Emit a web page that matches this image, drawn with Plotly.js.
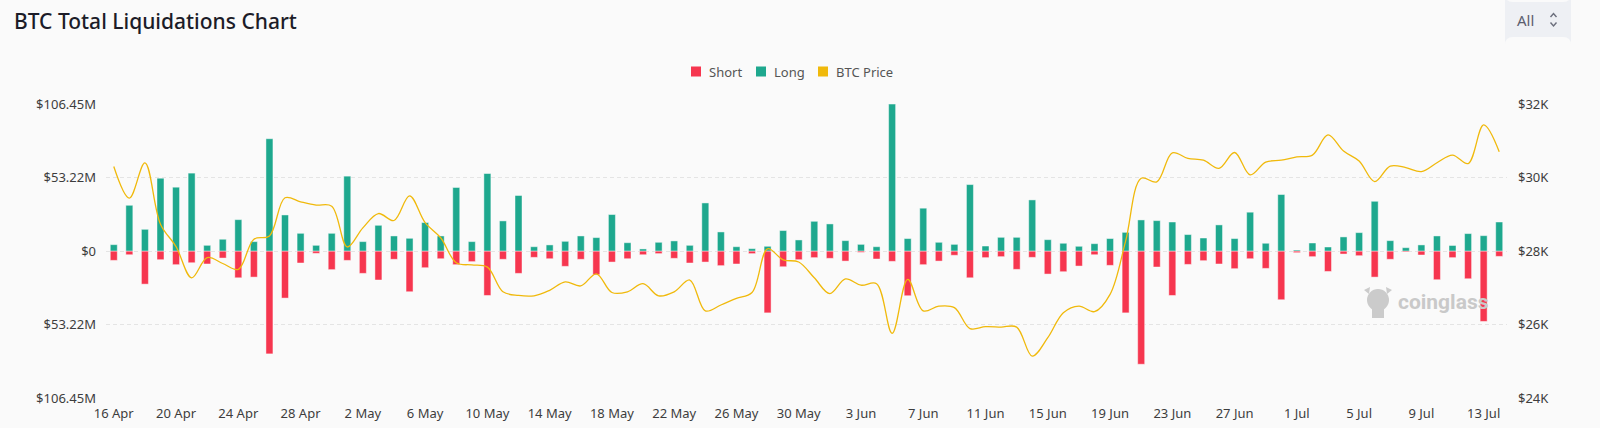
<!DOCTYPE html>
<html>
<head>
<meta charset="utf-8">
<script src="https://cdn.plot.ly/plotly-3.0.1.min.js"></script>
<style>
html,body{margin:0;padding:0;background:#fafafa;}
#chart{width:1600px;height:428px;}
</style>
</head>
<body>
<div id="chart"></div>
<script>
// ---- data ----
const dates = [
 '2023-04-16','2023-04-17','2023-04-18','2023-04-19','2023-04-20','2023-04-21','2023-04-22','2023-04-23','2023-04-24','2023-04-25','2023-04-26','2023-04-27','2023-04-28','2023-04-29','2023-04-30',
 '2023-05-01','2023-05-02','2023-05-03','2023-05-04','2023-05-05','2023-05-06','2023-05-07','2023-05-08','2023-05-09','2023-05-10','2023-05-11','2023-05-12','2023-05-13','2023-05-14','2023-05-15','2023-05-16','2023-05-17','2023-05-18','2023-05-19','2023-05-20','2023-05-21','2023-05-22','2023-05-23','2023-05-24','2023-05-25','2023-05-26','2023-05-27','2023-05-28','2023-05-29','2023-05-30','2023-05-31',
 '2023-06-01','2023-06-02','2023-06-03','2023-06-04','2023-06-05','2023-06-06','2023-06-07','2023-06-08','2023-06-09','2023-06-10','2023-06-11','2023-06-12','2023-06-13','2023-06-14','2023-06-15','2023-06-16','2023-06-17','2023-06-18','2023-06-19','2023-06-20','2023-06-21','2023-06-22','2023-06-23','2023-06-24','2023-06-25','2023-06-26','2023-06-27','2023-06-28','2023-06-29','2023-06-30',
 '2023-07-01','2023-07-02','2023-07-03','2023-07-04','2023-07-05','2023-07-06','2023-07-07','2023-07-08','2023-07-09','2023-07-10','2023-07-11','2023-07-12','2023-07-13','2023-07-14'
];
// Long liquidations, $M
const longLiq = [
 4.6,33.1,15.7,52.7,46.2,56.4,4.1,8.5,22.7,6.8,81.3,26.1,12.8,4.1,12.8,
 54.2,6.8,18.6,10.9,9.2,20.6,10.9,46.0,6.8,56.1,21.8,40.2,3.1,4.4,7.0,10.9,9.7,26.4,6.0,1.5,6.3,7.3,4.1,34.8,13.8,3.1,1.7,3.4,14.8,8.0,21.5,
 19.6,7.5,4.8,3.1,106.4,9.0,31.0,6.3,4.8,48.1,3.6,9.9,9.9,37.0,8.2,5.6,3.4,5.3,9.0,13.5,22.5,22.0,21.0,11.9,9.4,18.9,9.0,28.1,5.6,40.9,
 0.7,5.8,2.9,10.2,13.3,36.0,7.5,2.4,4.4,10.9,4.0,12.6,11.1,21.0
];
// Short liquidations, $M
const shortLiq = [
 6.8,2.7,24.0,6.3,9.9,8.5,9.4,5.1,19.4,18.9,74.5,34.1,8.7,1.7,13.5,
 6.8,16.2,21.0,6.0,29.5,12.1,5.6,9.9,7.7,32.2,6.0,16.2,4.6,5.6,11.1,6.0,17.2,8.0,5.6,2.7,1.9,5.3,8.7,8.0,10.6,9.4,1.9,44.8,11.4,6.3,4.8,
 5.3,7.3,1.0,5.8,7.5,32.4,9.9,7.3,3.1,19.4,4.8,4.1,13.3,4.6,16.7,15.0,10.9,2.7,10.4,44.8,82.0,11.6,32.2,9.7,7.0,9.4,12.8,5.6,12.6,35.3,
 1.2,4.1,14.8,2.2,3.4,18.9,6.0,0.7,2.9,20.8,4.8,20.1,51.0,3.9
];
// BTC price, $K
const btcPriceK = [
 30.30,29.44,30.40,28.73,28.12,27.27,27.82,27.66,27.50,28.32,28.41,29.45,29.34,29.25,29.22,
 28.11,28.63,29.02,28.83,29.50,28.77,28.36,27.68,27.62,27.56,26.89,26.79,26.78,26.93,27.16,27.05,27.38,26.87,26.89,27.11,26.78,26.89,27.21,26.37,26.53,26.71,26.87,28.06,27.76,27.70,27.27,
 26.84,27.24,27.07,27.11,25.76,27.23,26.37,26.50,26.46,25.89,25.94,25.93,25.93,25.14,25.64,26.32,26.50,26.35,26.82,28.27,29.98,29.88,30.67,30.52,30.47,30.25,30.68,30.07,30.42,30.47,
 30.56,30.61,31.16,30.72,30.45,29.89,30.31,30.27,30.16,30.40,30.61,30.38,31.43,30.70
];
const xTickDates = ['2023-04-16','2023-04-20','2023-04-24','2023-04-28','2023-05-02','2023-05-06','2023-05-10','2023-05-14','2023-05-18','2023-05-22','2023-05-26','2023-05-30','2023-06-03','2023-06-07','2023-06-11','2023-06-15','2023-06-19','2023-06-23','2023-06-27','2023-07-01','2023-07-05','2023-07-09','2023-07-13'];
const xTickLabels = ['16 Apr','20 Apr','24 Apr','28 Apr','2 May','6 May','10 May','14 May','18 May','22 May','26 May','30 May','3 Jun','7 Jun','11 Jun','15 Jun','19 Jun','23 Jun','27 Jun','1 Jul','5 Jul','9 Jul','13 Jul'];
const yTickVals = [-106.45,-53.22,0,53.22,106.45];
const yTickLabels = ['$106.45M','$53.22M','$0','$53.22M','$106.45M'];
const y2TickVals = [24,26,28,30,32];
const y2TickLabels = ['$24K','$26K','$28K','$30K','$32K'];
const seriesNames = ['Short', 'Long', 'BTC Price'];
const seriesColors = ['#f6364f', '#1ea88e', '#f0b90b'];

// ---- styling / layout helpers ----
const L = 106, R = 1507, T = 104, B = 398;
const px = x => (x - L) / (R - L);
const py = y => (B - y) / (B - T);
const DAY = 86400000;
const barWidth = 0.45 * DAY;
const tickFont = {family: 'Noto Sans, sans-serif', size: 13, color: '#3d3d3d'};
const gridStyle = {showgrid: true, gridcolor: '#e4e4e4', gridwidth: 1, griddash: '4px,3px'};

function roundRect(x0, y0, x1, y1, r) {
  const X0 = px(x0), X1 = px(x1), Y0 = py(y0), Y1 = py(y1);
  const rx = r / (R - L), ry = r / (B - T);
  return `M${X0+rx},${Y0} L${X1-rx},${Y0} Q${X1},${Y0} ${X1},${Y0-ry} L${X1},${Y1+ry} Q${X1},${Y1} ${X1-rx},${Y1} L${X0+rx},${Y1} Q${X0},${Y1} ${X0},${Y1+ry} L${X0},${Y0-ry} Q${X0},${Y0} ${X0+rx},${Y0} Z`;
}
function polyline(pts) {
  return pts.map((p, i) => (i ? 'L' : 'M') + px(p[0]) + ',' + py(p[1])).join(' ');
}

const traces = [
  {
    type: 'bar', name: seriesNames[0], x: dates, y: shortLiq.map(v => -v), width: barWidth,
    marker: {color: seriesColors[0], line: {color: 'rgba(255,255,255,0.45)', width: 1}},
    hoverinfo: 'skip'
  },
  {
    type: 'bar', name: seriesNames[1], x: dates, y: longLiq, width: barWidth,
    marker: {color: seriesColors[1], line: {color: 'rgba(255,255,255,0.45)', width: 1}},
    hoverinfo: 'skip'
  },
  {
    type: 'scatter', mode: 'lines', name: seriesNames[2], x: dates, y: btcPriceK, yaxis: 'y2',
    line: {color: seriesColors[2], width: 1.3, shape: 'spline', smoothing: 1},
    hoverinfo: 'skip'
  }
];

// custom legend (square swatches, as in the reference)
const legendSwatchX = [691, 756, 818];
const legendY = 71.5;
const legendShapes = seriesNames.map((n, i) => ({
  type: 'rect', xref: 'paper', yref: 'paper',
  x0: px(legendSwatchX[i]), x1: px(legendSwatchX[i] + 10),
  y0: py(legendY + 5), y1: py(legendY - 5),
  fillcolor: seriesColors[i], line: {width: 0}
}));
const legendLabels = seriesNames.map((n, i) => ({
  text: n, xref: 'paper', yref: 'paper', x: px(legendSwatchX[i] + 16), y: py(legendY),
  xanchor: 'left', yanchor: 'middle', showarrow: false,
  font: {family: 'Noto Sans, sans-serif', size: 13, color: '#555555'}
}));

const layout = {
  width: 1600, height: 428,
  paper_bgcolor: '#fafafa', plot_bgcolor: '#fafafa',
  margin: {l: L, r: 1600 - R, t: T, b: 428 - B, pad: 0},
  barmode: 'relative',
  showlegend: false,
  title: {
    text: 'BTC Total Liquidations Chart',
    x: 14 / 1600, xanchor: 'left', xref: 'container',
    y: 1 - 22 / 428, yanchor: 'middle', yref: 'container',
    font: {family: 'Noto Sans, sans-serif', size: 21, color: '#1c1c28', weight: 500}
  },
  xaxis: {
    type: 'date',
    range: ['2023-04-15 12:00', '2023-07-14 12:00'],
    tickmode: 'array', tickvals: xTickDates, ticktext: xTickLabels,
    tickfont: tickFont, showgrid: false, zeroline: false, showline: false,
    ticks: '', ticklabelstandoff: 6, fixedrange: true
  },
  yaxis: Object.assign({
    range: [-106.45, 106.45],
    tickmode: 'array', tickvals: yTickVals, ticktext: yTickLabels,
    tickfont: tickFont, zeroline: false, showline: false, ticks: '',
    ticklabelstandoff: 9, fixedrange: true
  }, gridStyle),
  yaxis2: {
    overlaying: 'y', side: 'right',
    range: [24, 32],
    tickmode: 'array', tickvals: y2TickVals, ticktext: y2TickLabels,
    tickfont: tickFont, showgrid: false, zeroline: false, showline: false, ticks: '',
    ticklabelstandoff: 10, fixedrange: true
  },
  shapes: [
    // "All" selector box
    {type: 'path', xref: 'paper', yref: 'paper', path: roundRect(1505, 37, 1571, 2, 8),
     fillcolor: '#eef0f4', line: {width: 0}, layer: 'above'},
    {type: 'path', xref: 'paper', yref: 'paper', path: polyline([[1550.5, 17], [1553.5, 13.5], [1556.5, 17]]),
     line: {color: '#6b6e7c', width: 1.4}},
    {type: 'path', xref: 'paper', yref: 'paper', path: polyline([[1550.5, 22.5], [1553.5, 26], [1556.5, 22.5]]),
     line: {color: '#6b6e7c', width: 1.4}},
    // watermark icon
    {type: 'circle', xref: 'paper', yref: 'paper', x0: px(1367), x1: px(1389), y0: py(311), y1: py(289),
     fillcolor: '#cbcbcb', line: {width: 0}, layer: 'below'},
    {type: 'rect', xref: 'paper', yref: 'paper', x0: px(1372), x1: px(1384), y0: py(318), y1: py(305),
     fillcolor: '#cbcbcb', line: {width: 0}, layer: 'below'},
    {type: 'path', xref: 'paper', yref: 'paper', path: polyline([[1364, 290], [1370, 287], [1369, 294]]) + ' Z',
     fillcolor: '#cbcbcb', line: {width: 0}, layer: 'below'},
    {type: 'path', xref: 'paper', yref: 'paper', path: polyline([[1392, 290], [1386, 287], [1387, 294]]) + ' Z',
     fillcolor: '#cbcbcb', line: {width: 0}, layer: 'below'}
  ].concat(legendShapes),
  annotations: [
    {text: 'All', xref: 'paper', yref: 'paper', x: px(1515), y: py(20), xanchor: 'left', yanchor: 'middle',
     showarrow: false, font: {family: 'Noto Sans, sans-serif', size: 15, color: '#5b5e6e'}},
    {text: 'coinglass', xref: 'paper', yref: 'paper', x: px(1396), y: py(302), xanchor: 'left', yanchor: 'middle',
     showarrow: false, font: {family: 'Roboto, sans-serif', size: 21, color: '#c9c9c9', weight: 700}}
  ].concat(legendLabels)
};

Plotly.newPlot('chart', traces, layout, {displayModeBar: false, responsive: false});
</script>
</body>
</html>
